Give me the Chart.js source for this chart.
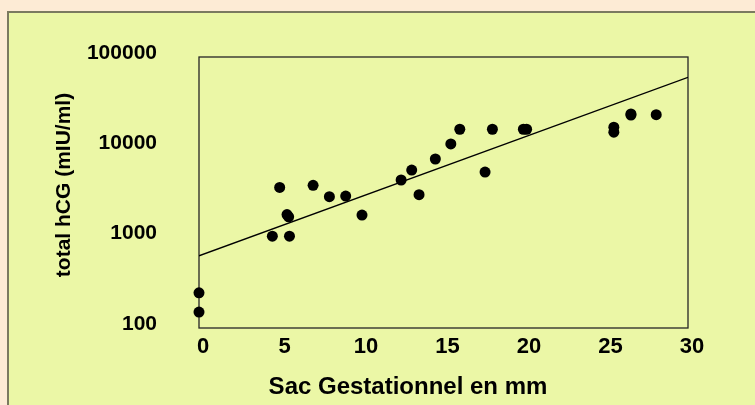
<!DOCTYPE html>
<html lang="fr">
<head>
<meta charset="UTF-8">
<title>hCG totale et sac gestationnel</title>
<script src="https://cdn.jsdelivr.net/npm/chart.js"></script>
<style>
  html, body { margin: 0; padding: 0; background: #fdebd5; overflow: hidden; }
  .panel { position: absolute; left: 7px; top: 11px; width: 800px; height: 450px; background: #ebf7a6; border: 2px solid #7b7a60; }
  .wrap { position: absolute; left: 0; top: 0; width: 755px; height: 405px; }
</style>
</head>
<body>
<div class="panel"></div>
<div class="wrap"><canvas id="chart"></canvas></div>
<script>
// values: sac size (mm) and total hCG (mIU/ml)
const sacMm = [0, 0, 4.5, 4.95, 5.4, 5.5, 5.55, 7.0, 8.0, 9.0, 10.0, 12.4, 13.05, 13.5, 14.5, 15.45, 16.0, 17.55, 18.0, 19.9, 20.1, 25.45, 25.45, 26.5, 26.5, 28.05];
const hcg   = [245, 150, 1040, 3600, 1800, 1700, 1040, 3800, 2840, 2890, 1780, 4350, 5600, 2990, 7430, 10900, 15850, 5330, 15850, 15850, 15850, 16700, 14700, 22800, 23400, 23000];

// regression line end points
const fitX = [0, 30];
const fitY = [630, 59600];

const xTicks = [0, 5, 10, 15, 20, 25, 30];
const yTicks = [100, 1000, 10000, 100000];

const FONT = '"Liberation Sans", Arial, Helvetica, sans-serif';

const frame = {
  id: 'frame',
  beforeDatasetsDraw(chart) {
    const { ctx, chartArea: a } = chart;
    ctx.save();
    ctx.strokeStyle = '#262626';
    ctx.lineWidth = 1.3;
    ctx.strokeRect(a.left, a.top, a.right - a.left, a.bottom - a.top);
    ctx.restore();
  },
  afterDraw(chart) {
    const { ctx, chartArea: a } = chart;
    ctx.save();
    ctx.fillStyle = '#000';
    ctx.textAlign = 'center';
    ctx.textBaseline = 'alphabetic';
    // x title sits left of the plot centre in the original
    ctx.font = 'bold 24px ' + FONT;
    ctx.fillText('Sac Gestationnel en mm', a.left + 209, 394);
    // y title
    ctx.font = 'bold 21px ' + FONT;
    ctx.translate(69.5, 185);
    ctx.rotate(-Math.PI / 2);
    ctx.fillText('total hCG (mIU/ml)', 0, 0);
    ctx.restore();
  }
};

new Chart(document.getElementById('chart'), {
  type: 'scatter',
  data: {
    datasets: [
      {
        data: sacMm.map((x, i) => ({ x, y: hcg[i] })),
        backgroundColor: '#000',
        borderWidth: 0,
        pointRadius: 5.5,
        clip: false
      },
      {
        type: 'line',
        data: fitX.map((x, i) => ({ x, y: fitY[i] })),
        borderColor: '#000',
        borderWidth: 1.4,
        pointRadius: 0,
        fill: false
      }
    ]
  },
  options: {
    responsive: true,
    maintainAspectRatio: false,
    animation: false,
    layout: { padding: { left: 0, top: 57, right: 67, bottom: 0 } },
    plugins: { legend: { display: false }, tooltip: { enabled: false } },
    scales: {
      x: {
        type: 'linear',
        min: 0,
        max: 30,
        afterBuildTicks: s => { s.ticks = xTicks.map(v => ({ value: v })); },
        afterFit: s => { s.height = 77; },
        grid: { display: false, drawTicks: false },
        border: { display: false },
        ticks: {
          color: '#000',
          font: { family: FONT, size: 22, weight: 'bold' },
          padding: 6,
          labelOffset: 4,
          maxRotation: 0
        }
      },
      y: {
        type: 'logarithmic',
        min: 100,
        max: 100000,
        afterBuildTicks: s => { s.ticks = yTicks.map(v => ({ value: v })); },
        afterFit: s => { s.width = 199; },
        grid: { display: false, drawTicks: false },
        border: { display: false },
        ticks: {
          color: '#000',
          font: { family: FONT, size: 21, weight: 'bold' },
          padding: 42,
          labelOffset: -4,
          callback: v => String(v)
        }
      }
    }
  },
  plugins: [frame]
});
</script>
</body>
</html>
